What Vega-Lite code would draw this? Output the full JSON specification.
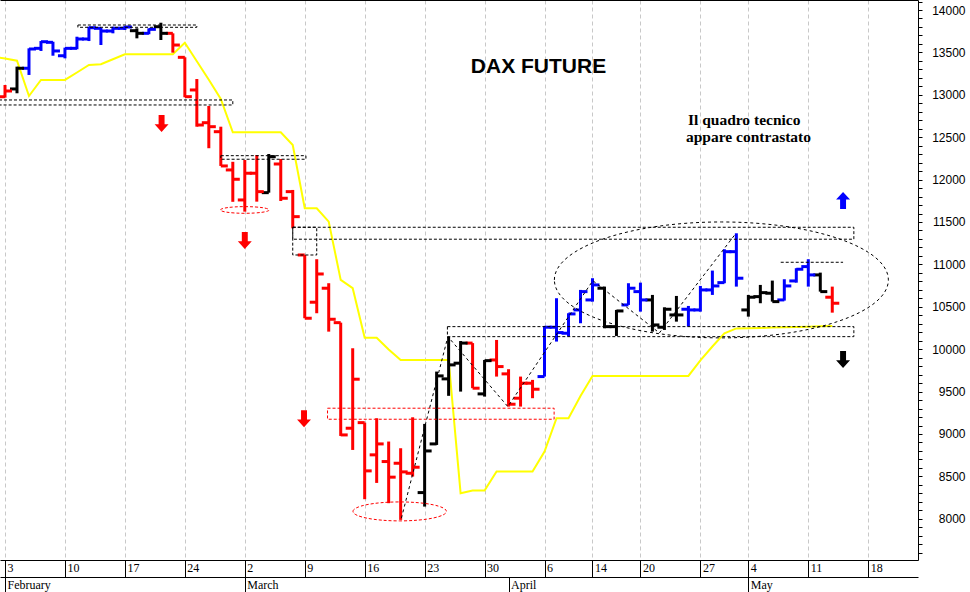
{
  "$schema": "https://vega.github.io/schema/vega-lite/v6.json",
  "width": 918,
  "height": 560,
  "autosize": {"type": "none"},
  "padding": {"left": 0, "top": 0, "right": 52, "bottom": 32},
  "background": "white",
  "config": {"view": {"stroke": null}, "axis": {"labelFont": "Liberation Sans", "labelColor": "black", "title": null}},
  "datasets": {
    "bars": [
      {"t":0,"d":"2020-02-03","o":12978,"h":13116,"l":12966,"c":13045,"trend":"down"},
      {"t":1,"d":"2020-02-04","o":13069,"h":13332,"l":13018,"c":13313,"trend":"neutral"},
      {"t":2,"d":"2020-02-05","o":13313,"h":13548,"l":13234,"c":13540,"trend":"up"},
      {"t":3,"d":"2020-02-06","o":13548,"h":13634,"l":13517,"c":13626,"trend":"up"},
      {"t":4,"d":"2020-02-07","o":13619,"h":13626,"l":13461,"c":13517,"trend":"up"},
      {"t":5,"d":"2020-02-10","o":13461,"h":13556,"l":13430,"c":13548,"trend":"up"},
      {"t":6,"d":"2020-02-11","o":13548,"h":13685,"l":13537,"c":13658,"trend":"up"},
      {"t":7,"d":"2020-02-12","o":13658,"h":13803,"l":13634,"c":13791,"trend":"up"},
      {"t":8,"d":"2020-02-13","o":13784,"h":13791,"l":13587,"c":13752,"trend":"up"},
      {"t":9,"d":"2020-02-14","o":13752,"h":13803,"l":13725,"c":13784,"trend":"up"},
      {"t":10,"d":"2020-02-17","o":13784,"h":13811,"l":13764,"c":13800,"trend":"up"},
      {"t":11,"d":"2020-02-18","o":13756,"h":13784,"l":13666,"c":13725,"trend":"neutral"},
      {"t":12,"d":"2020-02-19","o":13725,"h":13784,"l":13714,"c":13772,"trend":"up"},
      {"t":13,"d":"2020-02-20","o":13803,"h":13850,"l":13646,"c":13725,"trend":"neutral"},
      {"t":14,"d":"2020-02-21","o":13725,"h":13725,"l":13497,"c":13587,"trend":"down"},
      {"t":15,"d":"2020-02-24","o":13442,"h":13442,"l":12971,"c":12978,"trend":"down"},
      {"t":16,"d":"2020-02-25","o":13057,"h":13186,"l":12624,"c":12644,"trend":"down"},
      {"t":17,"d":"2020-02-26","o":12671,"h":12868,"l":12370,"c":12624,"trend":"down"},
      {"t":18,"d":"2020-02-27","o":12565,"h":12624,"l":12161,"c":12161,"trend":"down"},
      {"t":19,"d":"2020-02-28","o":12114,"h":12210,"l":11738,"c":12004,"trend":"down"},
      {"t":20,"d":"2020-03-02","o":11760,"h":12231,"l":11622,"c":12075,"trend":"down"},
      {"t":21,"d":"2020-03-03","o":12075,"h":12290,"l":11740,"c":11858,"trend":"down"},
      {"t":22,"d":"2020-03-04","o":11846,"h":12302,"l":11846,"c":12270,"trend":"neutral"},
      {"t":23,"d":"2020-03-05","o":12184,"h":12243,"l":11748,"c":11780,"trend":"down"},
      {"t":24,"d":"2020-03-06","o":11858,"h":11878,"l":11426,"c":11563,"trend":"down"},
      {"t":25,"d":"2020-03-09","o":11111,"h":11111,"l":10365,"c":10365,"trend":"down"},
      {"t":26,"d":"2020-03-10","o":10554,"h":11061,"l":10424,"c":10887,"trend":"down"},
      {"t":27,"d":"2020-03-11","o":10719,"h":10778,"l":10207,"c":10353,"trend":"down"},
      {"t":28,"d":"2020-03-12","o":10313,"h":10313,"l":8977,"c":8989,"trend":"down"},
      {"t":29,"d":"2020-03-13","o":9068,"h":10011,"l":8812,"c":9646,"trend":"down"},
      {"t":30,"d":"2020-03-16","o":9134,"h":9134,"l":8231,"c":8565,"trend":"down"},
      {"t":31,"d":"2020-03-17","o":8754,"h":9186,"l":8423,"c":8883,"trend":"down"},
      {"t":32,"d":"2020-03-18","o":8675,"h":8911,"l":8184,"c":8491,"trend":"down"},
      {"t":33,"d":"2020-03-19","o":8655,"h":8832,"l":7987,"c":8553,"trend":"down"},
      {"t":34,"d":"2020-03-20","o":8537,"h":9197,"l":8498,"c":8608,"trend":"down"},
      {"t":35,"d":"2020-03-23","o":8309,"h":9119,"l":8144,"c":8800,"trend":"neutral"},
      {"t":36,"d":"2020-03-24","o":8883,"h":9736,"l":8871,"c":9685,"trend":"neutral"},
      {"t":37,"d":"2020-03-25","o":9650,"h":10145,"l":9450,"c":9815,"trend":"neutral"},
      {"t":38,"d":"2020-03-26","o":9835,"h":10096,"l":9500,"c":10072,"trend":"neutral"},
      {"t":39,"d":"2020-03-27","o":10072,"h":10072,"l":9540,"c":9540,"trend":"down"},
      {"t":40,"d":"2020-03-30","o":9473,"h":9873,"l":9441,"c":9865,"trend":"neutral"},
      {"t":41,"d":"2020-03-31","o":9873,"h":10109,"l":9677,"c":9795,"trend":"down"},
      {"t":42,"d":"2020-04-01","o":9709,"h":9764,"l":9323,"c":9351,"trend":"down"},
      {"t":43,"d":"2020-04-02","o":9422,"h":9677,"l":9323,"c":9599,"trend":"down"},
      {"t":44,"d":"2020-04-03","o":9599,"h":9638,"l":9422,"c":9528,"trend":"down"},
      {"t":45,"d":"2020-04-06","o":9677,"h":10274,"l":9677,"c":10259,"trend":"up"},
      {"t":46,"d":"2020-04-07","o":10259,"h":10601,"l":10090,"c":10196,"trend":"up"},
      {"t":47,"d":"2020-04-08","o":10188,"h":10424,"l":10149,"c":10416,"trend":"up"},
      {"t":48,"d":"2020-04-09","o":10463,"h":10699,"l":10306,"c":10679,"trend":"up"},
      {"t":49,"d":"2020-04-14","o":10581,"h":10837,"l":10561,"c":10758,"trend":"up"},
      {"t":50,"d":"2020-04-15","o":10719,"h":10738,"l":10247,"c":10266,"trend":"neutral"},
      {"t":51,"d":"2020-04-16","o":10266,"h":10463,"l":10156,"c":10451,"trend":"neutral"},
      {"t":52,"d":"2020-04-17","o":10522,"h":10778,"l":10522,"c":10719,"trend":"up"},
      {"t":53,"d":"2020-04-20","o":10679,"h":10785,"l":10443,"c":10581,"trend":"up"},
      {"t":54,"d":"2020-04-21","o":10581,"h":10640,"l":10207,"c":10286,"trend":"neutral"},
      {"t":55,"d":"2020-04-22","o":10259,"h":10494,"l":10227,"c":10471,"trend":"neutral"},
      {"t":56,"d":"2020-04-23","o":10404,"h":10628,"l":10325,"c":10404,"trend":"neutral"},
      {"t":57,"d":"2020-04-24","o":10471,"h":10510,"l":10266,"c":10463,"trend":"up"},
      {"t":58,"d":"2020-04-27","o":10463,"h":10746,"l":10443,"c":10699,"trend":"up"},
      {"t":59,"d":"2020-04-28","o":10699,"h":10927,"l":10640,"c":10746,"trend":"up"},
      {"t":60,"d":"2020-04-29","o":10785,"h":11179,"l":10778,"c":11150,"trend":"up"},
      {"t":61,"d":"2020-04-30","o":11150,"h":11367,"l":10738,"c":10837,"trend":"up"},
      {"t":62,"d":"2020-05-04","o":10463,"h":10640,"l":10384,"c":10613,"trend":"neutral"},
      {"t":63,"d":"2020-05-05","o":10620,"h":10758,"l":10542,"c":10667,"trend":"neutral"},
      {"t":64,"d":"2020-05-06","o":10660,"h":10809,"l":10561,"c":10561,"trend":"neutral"},
      {"t":65,"d":"2020-05-07","o":10581,"h":10825,"l":10573,"c":10746,"trend":"up"},
      {"t":66,"d":"2020-05-08","o":10805,"h":10955,"l":10785,"c":10943,"trend":"up"},
      {"t":67,"d":"2020-05-11","o":10974,"h":11061,"l":10738,"c":10876,"trend":"up"},
      {"t":68,"d":"2020-05-12","o":10876,"h":10903,"l":10679,"c":10679,"trend":"neutral"},
      {"t":69,"d":"2020-05-13","o":10613,"h":10738,"l":10431,"c":10542,"trend":"down"}
    ],
    "stop": [
      {"t":-1,"p":13452},{"t":0,"p":13428},{"t":1,"p":13402},{"t":2,"p":12986},{"t":3,"p":13175},
      {"t":4,"p":13175},{"t":5,"p":13175},{"t":6,"p":13263},{"t":7,"p":13352},{"t":8,"p":13360},
      {"t":9,"p":13419},{"t":10,"p":13478},{"t":11,"p":13478},{"t":12,"p":13478},{"t":13,"p":13478},
      {"t":14,"p":13478},{"t":15,"p":13614},{"t":16,"p":13396},{"t":17,"p":13177},{"t":18,"p":12951},
      {"t":19,"p":12558},{"t":20,"p":12558},{"t":21,"p":12558},{"t":22,"p":12558},{"t":23,"p":12558},
      {"t":24,"p":12408},{"t":25,"p":11662},{"t":26,"p":11662},{"t":27,"p":11504},{"t":28,"p":10817},
      {"t":29,"p":10719},{"t":30,"p":10136},{"t":31,"p":10136},{"t":32,"p":9997},{"t":33,"p":9873},
      {"t":34,"p":9873},{"t":35,"p":9873},{"t":36,"p":9873},{"t":37,"p":9873},{"t":38,"p":8302},
      {"t":39,"p":8333},{"t":40,"p":8333},{"t":41,"p":8557},{"t":42,"p":8557},{"t":43,"p":8557},
      {"t":44,"p":8557},{"t":45,"p":8792},{"t":46,"p":9186},{"t":47,"p":9186},{"t":48,"p":9449},
      {"t":49,"p":9685},{"t":50,"p":9685},{"t":51,"p":9685},{"t":52,"p":9685},{"t":53,"p":9685},
      {"t":54,"p":9685},{"t":55,"p":9685},{"t":56,"p":9685},{"t":57,"p":9685},{"t":58,"p":9867},
      {"t":59,"p":10032},{"t":60,"p":10186},{"t":61,"p":10245},{"t":62,"p":10247},{"t":63,"p":10250},
      {"t":64,"p":10255},{"t":65,"p":10258},{"t":66,"p":10262},{"t":67,"p":10266},{"t":68,"p":10270},
      {"t":69,"p":10274}
    ],
    "boxes": [
      {"t":6.08,"t2":16,"p":13796,"p2":13823},
      {"t":-0.5,"t2":19,"p":12880,"p2":12939},
      {"t":18,"t2":25.1,"p":12240,"p2":12282},
      {"t":24,"t2":70.8,"p":11297,"p2":11438},
      {"t":24,"t2":26,"p":11111,"p2":11438},
      {"t":36.9,"t2":70.8,"p":10148,"p2":10266}
    ],
    "zone": [{"t":26.9,"t2":45.8,"p":9174,"p2":9304}],
    "level": [{"t":64.7,"t2":69.9,"p":11025}],
    "wave": [
      {"k":1,"t":33.06,"p":8007},{"k":2,"t":36.94,"p":10148},{"k":3,"t":41.94,"p":9323},
      {"k":4,"t":49.03,"p":10808},{"k":5,"t":54.58,"p":10192},{"k":6,"t":60.97,"p":11367}
    ],
    "arrows": [
      {"t":13.06,"p":12662,"trend":"down","dir":"down"},
      {"t":20,"p":11282,"trend":"down","dir":"down"},
      {"t":24.94,"p":9181,"trend":"down","dir":"down"},
      {"t":69.9,"p":11754,"trend":"up","dir":"up"},
      {"t":69.9,"p":9879,"trend":"neutral","dir":"down"}
    ],
    "labels": [
      {"t":56.96,"p":12703,"text":"Il quadro tecnico"},
      {"t":56.8,"p":12497,"text":"appare contrastato"}
    ]
  },
  "layer": [
    {
      "data": {"name": "stop"},
      "mark": {"type": "line", "color": "#ffff00", "strokeWidth": 2, "clip": true},
      "encoding": {
        "x": {"field": "t", "type": "quantitative", "scale": {"domain": [-0.417, 76.15], "nice": false, "zero": false},
              "axis": {"orient": "bottom", "offset": 17, "values": [0, 20, 42, 62],
                       "labelExpr": "['February','March','April','May'][indexof([0,20,42,62], datum.value)]",
                       "domain": true, "domainColor": "black", "ticks": true, "tickColor": "black", "tickSize": 15,
                       "labelAlign": "left", "labelBaseline": "top", "labelPadding": -13, "labelOffset": 2,
                       "labelFont": "Liberation Sans Narrow", "labelFontSize": 12, "grid": false, "labelFlush": false, "labelOverlap": false}},
        "y": {"field": "p", "type": "quantitative", "scale": {"domain": [7514, 14118], "nice": false, "zero": false}, "axis": null}
      }
    },
    {
      "data": {"name": "bars"},
      "mark": {"type": "rule", "strokeWidth": 3},
      "encoding": {
        "x": {"field": "t", "type": "quantitative", "scale": {"domain": [-0.417, 76.15], "nice": false, "zero": false},
              "axis": {"orient": "bottom", "values": [0,5,10,15,20,25,30,35,40,45,49,53,58,62,67,72],
                       "labelExpr": "['3','10','17','24','2','9','16','23','30','6','14','20','27','4','11','18'][indexof([0,5,10,15,20,25,30,35,40,45,49,53,58,62,67,72], datum.value)]",
                       "domain": true, "domainColor": "black", "ticks": true, "tickColor": "black", "tickSize": 17,
                       "labelAlign": "left", "labelBaseline": "top", "labelPadding": -15, "labelOffset": 2,
                       "labelFont": "Liberation Sans Narrow", "labelFontSize": 12,
                       "grid": true, "gridColor": "#c8c8c8", "gridDash": [4, 3], "labelFlush": false, "labelOverlap": false}},
        "y": {"field": "l", "type": "quantitative", "scale": {"domain": [7514, 14118], "nice": false, "zero": false},
              "axis": {"orient": "right", "values": [7600,7700,7800,7900,8000,8100,8200,8300,8400,8500,8600,8700,8800,8900,9000,9100,9200,9300,9400,9500,9600,9700,9800,9900,10000,10100,10200,10300,10400,10500,10600,10700,10800,10900,11000,11100,11200,11300,11400,11500,11600,11700,11800,11900,12000,12100,12200,12300,12400,12500,12600,12700,12800,12900,13000,13100,13200,13300,13400,13500,13600,13700,13800,13900,14000,14100],
                       "format": "d", "labelExpr": "datum.value % 500 === 0 ? datum.label : ''",
                       "domain": true, "domainColor": "black", "tickColor": "black", "tickSize": 4,
                       "labelAlign": "right", "labelBaseline": "middle", "labelPadding": 43, "labelFontSize": 12,
                       "grid": false, "labelOverlap": false, "labelFlush": false}},
        "y2": {"field": "h"},
        "color": {"field": "trend", "type": "nominal", "scale": {"domain": ["up", "neutral", "down"], "range": ["#0000ff", "#000000", "#ff0000"]}, "legend": null}
      }
    },
    {
      "data": {"name": "bars"},
      "mark": {"type": "tick", "orient": "horizontal", "size": 7, "thickness": 3, "xOffset": -3.5, "opacity": 1},
      "encoding": {
        "x": {"field": "t", "type": "quantitative", "scale": {"domain": [-0.417, 76.15], "nice": false, "zero": false}, "axis": null},
        "y": {"field": "o", "type": "quantitative", "scale": {"domain": [7514, 14118], "nice": false, "zero": false}, "axis": null},
        "color": {"field": "trend", "type": "nominal", "scale": {"domain": ["up", "neutral", "down"], "range": ["#0000ff", "#000000", "#ff0000"]}, "legend": null}
      }
    },
    {
      "data": {"name": "bars"},
      "mark": {"type": "tick", "orient": "horizontal", "size": 7, "thickness": 3, "xOffset": 3.5, "opacity": 1},
      "encoding": {
        "x": {"field": "t", "type": "quantitative", "scale": {"domain": [-0.417, 76.15], "nice": false, "zero": false}, "axis": null},
        "y": {"field": "c", "type": "quantitative", "scale": {"domain": [7514, 14118], "nice": false, "zero": false}, "axis": null},
        "color": {"field": "trend", "type": "nominal", "scale": {"domain": ["up", "neutral", "down"], "range": ["#0000ff", "#000000", "#ff0000"]}, "legend": null}
      }
    },
    {
      "data": {"name": "boxes"},
      "mark": {"type": "rect", "fillOpacity": 0, "stroke": "black", "strokeWidth": 1, "strokeDash": [3, 2], "clip": true},
      "encoding": {
        "x": {"field": "t", "type": "quantitative", "scale": {"domain": [-0.417, 76.15], "nice": false, "zero": false},
              "axis": {"orient": "top", "domain": true, "domainColor": "black", "ticks": false, "labels": false, "grid": false}},
        "x2": {"field": "t2"},
        "y": {"field": "p", "type": "quantitative", "scale": {"domain": [7514, 14118], "nice": false, "zero": false}, "axis": null},
        "y2": {"field": "p2"}
      }
    },
    {
      "data": {"name": "zone"},
      "mark": {"type": "rect", "fillOpacity": 0, "stroke": "#ff0000", "strokeWidth": 1, "strokeDash": [3, 2]},
      "encoding": {
        "x": {"field": "t", "type": "quantitative", "scale": {"domain": [-0.417, 76.15], "nice": false, "zero": false}, "axis": null},
        "x2": {"field": "t2"},
        "y": {"field": "p", "type": "quantitative", "scale": {"domain": [7514, 14118], "nice": false, "zero": false}, "axis": null},
        "y2": {"field": "p2"}
      }
    },
    {
      "data": {"name": "level"},
      "mark": {"type": "rule", "color": "black", "strokeWidth": 1, "strokeDash": [3, 2]},
      "encoding": {
        "x": {"field": "t", "type": "quantitative", "scale": {"domain": [-0.417, 76.15], "nice": false, "zero": false}, "axis": null},
        "x2": {"field": "t2"},
        "y": {"field": "p", "type": "quantitative", "scale": {"domain": [7514, 14118], "nice": false, "zero": false}, "axis": null}
      }
    },
    {
      "data": {"name": "wave"},
      "mark": {"type": "line", "color": "black", "strokeWidth": 1, "strokeDash": [3, 3]},
      "encoding": {
        "x": {"field": "t", "type": "quantitative", "scale": {"domain": [-0.417, 76.15], "nice": false, "zero": false}, "axis": null},
        "y": {"field": "p", "type": "quantitative", "scale": {"domain": [7514, 14118], "nice": false, "zero": false}, "axis": null},
        "order": {"field": "k", "type": "quantitative"}
      }
    },
    {
      "data": {"values": [{"t": 20, "p": 11642}]},
      "mark": {"type": "point", "shape": "M-1,0C-1,-0.0757,-0.5523,-0.137,0,-0.137C0.5523,-0.137,1,-0.0757,1,0C1,0.0757,0.5523,0.137,0,0.137C-0.5523,0.137,-1,0.0757,-1,0Z", "size": 2362, "filled": false, "stroke": "#ff0000", "strokeWidth": 1, "strokeDash": [3, 2], "opacity": 1},
      "encoding": {
        "x": {"field": "t", "type": "quantitative", "scale": {"domain": [-0.417, 76.15], "nice": false, "zero": false}, "axis": null},
        "y": {"field": "p", "type": "quantitative", "scale": {"domain": [7514, 14118], "nice": false, "zero": false}, "axis": null}
      }
    },
    {
      "data": {"values": [{"t": 32.92, "p": 8087}]},
      "mark": {"type": "point", "shape": "M-1,0C-1,-0.1121,-0.5523,-0.203,0,-0.203C0.5523,-0.203,1,-0.1121,1,0C1,0.1121,0.5523,0.203,0,0.203C-0.5523,0.203,-1,0.1121,-1,0Z", "size": 8724, "filled": false, "stroke": "#ff0000", "strokeWidth": 1, "strokeDash": [3, 2], "opacity": 1},
      "encoding": {
        "x": {"field": "t", "type": "quantitative", "scale": {"domain": [-0.417, 76.15], "nice": false, "zero": false}, "axis": null},
        "y": {"field": "p", "type": "quantitative", "scale": {"domain": [7514, 14118], "nice": false, "zero": false}, "axis": null}
      }
    },
    {
      "data": {"values": [{"t": 59.75, "p": 10817}]},
      "mark": {"type": "point", "shape": "M-1,0C-1,-0.1917,-0.5523,-0.347,0,-0.347C0.5523,-0.347,1,-0.1917,1,0C1,0.1917,0.5523,0.347,0,0.347C-0.5523,0.347,-1,0.1917,-1,0Z", "size": 111556, "filled": false, "stroke": "black", "strokeWidth": 1, "strokeDash": [3, 3], "opacity": 1},
      "encoding": {
        "x": {"field": "t", "type": "quantitative", "scale": {"domain": [-0.417, 76.15], "nice": false, "zero": false}, "axis": null},
        "y": {"field": "p", "type": "quantitative", "scale": {"domain": [7514, 14118], "nice": false, "zero": false}, "axis": null}
      }
    },
    {
      "data": {"name": "arrows"},
      "mark": {"type": "point", "filled": true, "size": 289, "opacity": 1, "strokeWidth": 0},
      "encoding": {
        "x": {"field": "t", "type": "quantitative", "scale": {"domain": [-0.417, 76.15], "nice": false, "zero": false}, "axis": null},
        "y": {"field": "p", "type": "quantitative", "scale": {"domain": [7514, 14118], "nice": false, "zero": false}, "axis": null},
        "shape": {"field": "dir", "type": "nominal", "scale": {"domain": ["down", "up"], "range": ["M-0.35,-1L0.35,-1L0.35,0.1L0.82,0.1L0,1L-0.82,0.1L-0.35,0.1Z", "M-0.35,1L0.35,1L0.35,-0.1L0.82,-0.1L0,-1L-0.82,-0.1L-0.35,-0.1Z"]}, "legend": null},
        "color": {"field": "trend", "type": "nominal", "scale": {"domain": ["up", "neutral", "down"], "range": ["#0000ff", "#000000", "#ff0000"]}, "legend": null}
      }
    },
    {
      "data": {"values": [{"t": 44.5, "p": 13328, "text": "DAX FUTURE"}]},
      "mark": {"type": "text", "font": "Liberation Sans", "fontWeight": "bold", "fontSize": 21, "color": "black", "align": "center", "baseline": "middle"},
      "encoding": {
        "x": {"field": "t", "type": "quantitative", "scale": {"domain": [-0.417, 76.15], "nice": false, "zero": false}, "axis": null},
        "y": {"field": "p", "type": "quantitative", "scale": {"domain": [7514, 14118], "nice": false, "zero": false}, "axis": null},
        "text": {"field": "text"}
      }
    },
    {
      "data": {"name": "labels"},
      "mark": {"type": "text", "font": "Liberation Serif", "fontWeight": "bold", "fontSize": 15.5, "color": "black", "align": "left", "baseline": "middle"},
      "encoding": {
        "x": {"field": "t", "type": "quantitative", "scale": {"domain": [-0.417, 76.15], "nice": false, "zero": false}, "axis": null},
        "y": {"field": "p", "type": "quantitative", "scale": {"domain": [7514, 14118], "nice": false, "zero": false}, "axis": null},
        "text": {"field": "text"}
      }
    }
  ],
  "resolve": {"axis": {"x": "independent", "y": "independent"}}
}
